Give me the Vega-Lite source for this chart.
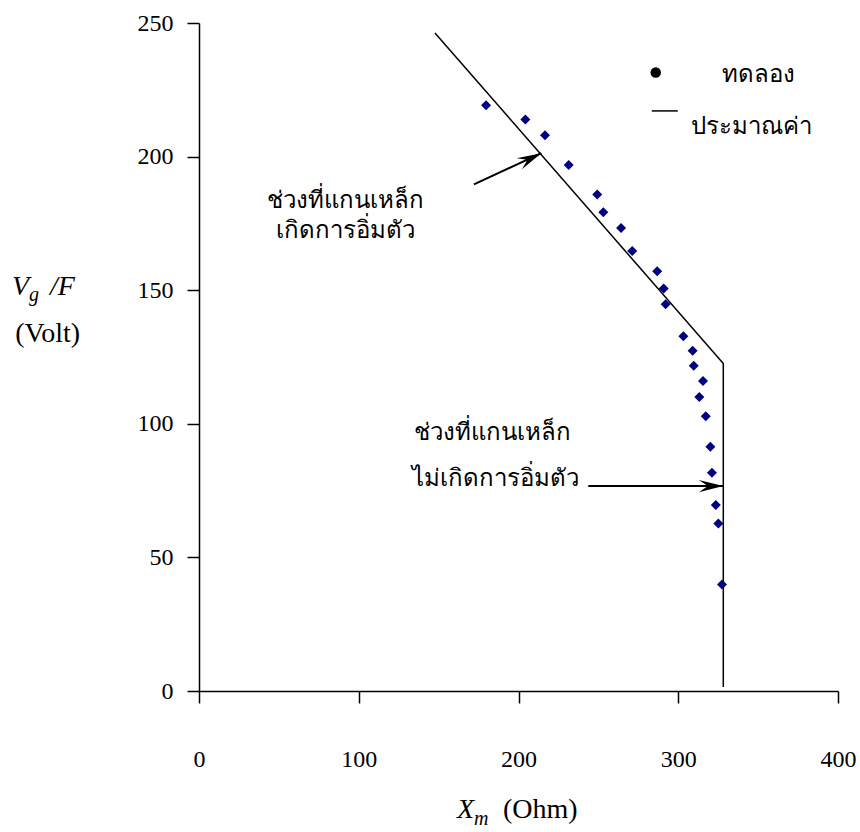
{
  "$schema": "https://vega.github.io/schema/vega-lite/v6.json",
  "width": 639,
  "height": 668,
  "autosize": {"type": "none"},
  "padding": {"left": 199, "top": 23, "right": 22, "bottom": 141},
  "background": "white",
  "config": {
    "view": {"stroke": null},
    "font": "Liberation Serif",
    "style": {"guide-label": {"font": "Liberation Serif", "fontSize": 24, "fill": "black"}},
    "axis": {"labelFont": "Liberation Serif", "labelFontSize": 24, "labelColor": "black",
             "domainColor": "black", "tickColor": "black", "grid": false}
  },
  "datasets": {
    "measured": [
      {"x": 179.7, "y": 219.2}, {"x": 204.3, "y": 213.9}, {"x": 216.6, "y": 208.0},
      {"x": 231.4, "y": 196.9}, {"x": 249.3, "y": 185.8}, {"x": 253.1, "y": 179.2},
      {"x": 264.2, "y": 173.3}, {"x": 271.2, "y": 164.7}, {"x": 286.8, "y": 157.1},
      {"x": 290.9, "y": 150.6}, {"x": 292.1, "y": 144.7}, {"x": 303.2, "y": 132.8},
      {"x": 309.0, "y": 127.3}, {"x": 309.7, "y": 121.7}, {"x": 315.5, "y": 116.0},
      {"x": 313.2, "y": 110.0}, {"x": 317.2, "y": 102.8}, {"x": 320.1, "y": 91.4},
      {"x": 321.1, "y": 81.7}, {"x": 323.5, "y": 69.6}, {"x": 325.1, "y": 62.7},
      {"x": 327.4, "y": 39.9}
    ],
    "approx": [
      {"x": 147.7, "y": 246.3, "o": 1},
      {"x": 328.2, "y": 122.6, "o": 2},
      {"x": 328.2, "y": 1.5, "o": 3}
    ],
    "arrows": [
      {"id": "sat", "x": 172.1, "y": 189.6, "x2": 214.3, "y2": 201.3},
      {"id": "unsat", "x": 243.7, "y": 76.7, "x2": 328.2, "y2": 76.7}
    ],
    "notes": [
      {"text": "ช่วงที่แกนเหล็ก", "x": 92.0, "y": 183.5},
      {"text": "เกิดการอิ่มตัว", "x": 92.0, "y": 172.0},
      {"text": "ช่วงที่แกนเหล็ก", "x": 184.0, "y": 96.5},
      {"text": "ไม่เกิดการอิ่มตัว", "x": 185.3, "y": 79.5}
    ],
    "legendDot": [{"x": 285.9, "y": 231.5}],
    "legendLine": [{"x": 283.4, "x2": 299.7, "y": 217.1}],
    "legendText": [
      {"text": "ทดลอง", "x": 327.2, "y": 230.5},
      {"text": "ประมาณค่า", "x": 308.2, "y": 211.0}
    ],
    "titleItalic": [
      {"text": "V", "x": -117.1, "y": 148.1},
      {"text": "/F", "x": -93.3, "y": 148.1},
      {"text": "X", "x": 161.5, "y": -47.5}
    ],
    "titleSub": [
      {"text": "g", "x": -106.4, "y": 146.0},
      {"text": "m", "x": 172.1, "y": -50.1}
    ],
    "titlePlain": [
      {"text": "(Volt)", "x": -115.0, "y": 130.6},
      {"text": "(Ohm)", "x": 190.3, "y": -47.5}
    ]
  },
  "layer": [
    {
      "data": {"name": "approx"},
      "mark": {"type": "line", "color": "black", "strokeWidth": 1.5},
      "encoding": {
        "x": {"field": "x", "type": "quantitative",
              "scale": {"domain": [0, 400], "nice": false, "zero": false},
              "axis": {"values": [0, 100, 200, 300, 400], "title": null, "grid": false,
                       "domainColor": "black", "domainWidth": 1.5, "tickColor": "black",
                       "tickWidth": 1.5, "tickSize": 12, "labelFont": "Liberation Serif",
                       "labelFontSize": 24, "labelColor": "black", "labelPadding": 44,
                       "labelFlush": false, "labelOverlap": false}},
        "y": {"field": "y", "type": "quantitative",
              "scale": {"domain": [0, 250], "nice": false, "zero": false},
              "axis": {"values": [0, 50, 100, 150, 200, 250], "title": null, "grid": false,
                       "domainColor": "black", "domainWidth": 1.5, "tickColor": "black",
                       "tickWidth": 1.5, "tickSize": 12, "labelFont": "Liberation Serif",
                       "labelFontSize": 24, "labelColor": "black", "labelPadding": 14,
                       "labelOverlap": false}},
        "order": {"field": "o"}
      }
    },
    {
      "data": {"name": "measured"},
      "mark": {"type": "point", "shape": "diamond", "filled": true, "color": "#000080", "size": 100, "opacity": 1},
      "encoding": {
        "x": {"field": "x", "type": "quantitative"},
        "y": {"field": "y", "type": "quantitative"}
      }
    },
    {
      "data": {"name": "arrows"},
      "mark": {"type": "rule", "color": "black", "strokeWidth": 2},
      "encoding": {
        "x": {"field": "x", "type": "quantitative"},
        "y": {"field": "y", "type": "quantitative"},
        "x2": {"field": "x2"},
        "y2": {"field": "y2"}
      }
    },
    {
      "data": {"name": "arrows"},
      "transform": [{"filter": "datum.id === 'sat'"}],
      "mark": {"type": "point", "shape": "M0,0 L-2,-0.5 L-1.25,0 L-2,0.5 Z", "filled": true, "color": "black", "size": 600, "opacity": 1, "angle": 334.3},
      "encoding": {
        "x": {"field": "x2", "type": "quantitative"},
        "y": {"field": "y2", "type": "quantitative"}
      }
    },
    {
      "data": {"name": "arrows"},
      "transform": [{"filter": "datum.id === 'unsat'"}],
      "mark": {"type": "point", "shape": "M0,0 L-2,-0.5 L-1.25,0 L-2,0.5 Z", "filled": true, "color": "black", "size": 600, "opacity": 1, "angle": 0},
      "encoding": {
        "x": {"field": "x2", "type": "quantitative"},
        "y": {"field": "y2", "type": "quantitative"}
      }
    },
    {
      "data": {"name": "notes"},
      "mark": {"type": "text", "align": "center", "baseline": "middle", "fontSize": 24, "font": "Liberation Serif", "color": "black"},
      "encoding": {
        "x": {"field": "x", "type": "quantitative"},
        "y": {"field": "y", "type": "quantitative"},
        "text": {"field": "text"}
      }
    },
    {
      "data": {"name": "legendDot"},
      "mark": {"type": "point", "shape": "circle", "filled": true, "color": "black", "size": 110, "opacity": 1},
      "encoding": {
        "x": {"field": "x", "type": "quantitative"},
        "y": {"field": "y", "type": "quantitative"}
      }
    },
    {
      "data": {"name": "legendLine"},
      "mark": {"type": "rule", "color": "black", "strokeWidth": 1.5},
      "encoding": {
        "x": {"field": "x", "type": "quantitative"},
        "x2": {"field": "x2"},
        "y": {"field": "y", "type": "quantitative"}
      }
    },
    {
      "data": {"name": "legendText"},
      "mark": {"type": "text", "align": "left", "baseline": "middle", "fontSize": 24, "font": "Liberation Serif", "color": "black"},
      "encoding": {
        "x": {"field": "x", "type": "quantitative"},
        "y": {"field": "y", "type": "quantitative"},
        "text": {"field": "text"}
      }
    },
    {
      "data": {"name": "titleItalic"},
      "mark": {"type": "text", "align": "left", "baseline": "alphabetic", "fontSize": 28, "fontStyle": "italic", "font": "Liberation Serif", "color": "black"},
      "encoding": {
        "x": {"field": "x", "type": "quantitative"},
        "y": {"field": "y", "type": "quantitative"},
        "text": {"field": "text"}
      }
    },
    {
      "data": {"name": "titleSub"},
      "mark": {"type": "text", "align": "left", "baseline": "alphabetic", "fontSize": 20, "fontStyle": "italic", "font": "Liberation Serif", "color": "black"},
      "encoding": {
        "x": {"field": "x", "type": "quantitative"},
        "y": {"field": "y", "type": "quantitative"},
        "text": {"field": "text"}
      }
    },
    {
      "data": {"name": "titlePlain"},
      "mark": {"type": "text", "align": "left", "baseline": "alphabetic", "fontSize": 28, "font": "Liberation Serif", "color": "black"},
      "encoding": {
        "x": {"field": "x", "type": "quantitative"},
        "y": {"field": "y", "type": "quantitative"},
        "text": {"field": "text"}
      }
    }
  ]
}
